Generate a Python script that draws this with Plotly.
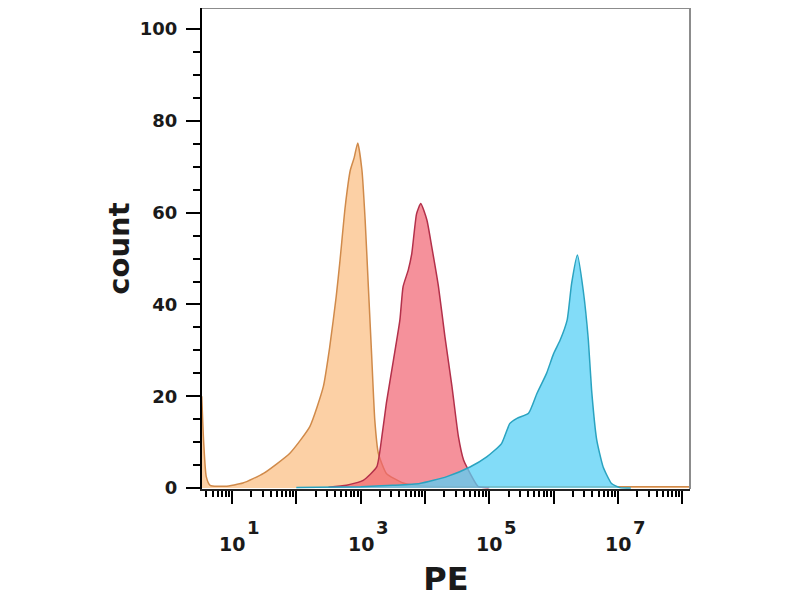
import numpy as np
import plotly.graph_objects as go

# -------------------------
# Data (x given as log10 of PE, y as count)
# -------------------------
orange_exp = [0.53, 0.56, 0.60, 0.66, 0.90, 1.17, 1.49, 1.90, 2.21, 2.42, 2.52, 2.62, 2.68, 2.76,
              2.84, 2.90, 2.955, 3.02, 3.07, 3.12, 3.17, 3.22, 3.275, 3.40, 3.66, 4.0, 5.0, 6.0, 7.0, 8.12]
orange_cnt = [20, 10, 2.5, 0.6, 0.4, 1.1, 3.2, 7.6, 13.4, 22.1, 30.8, 41.7, 49.7, 61.3,
              69.3, 72.0, 75.2, 69.3, 58.4, 43.9, 29.3, 14.8, 7.6, 3.2, 1.1, 0.4, 0.3, 0.3, 0.3, 0.3]

red_exp = [2.5, 2.78, 3.04, 3.25, 3.33, 3.40, 3.51, 3.61, 3.66, 3.74, 3.795, 3.87, 3.935, 4.03,
           4.105, 4.21, 4.31, 4.42, 4.52, 4.60, 4.65, 4.83, 5.0]
red_cnt = [0.2, 0.6, 1.7, 4.6, 11.2, 18.5, 27.9, 36.6, 43.9, 47.5, 51.1, 59.8, 62.0, 58.4,
           52.6, 43.9, 33.0, 22.1, 11.2, 6.1, 4.6, 0.3, 0.1]

blue_exp = [2.0, 3.0, 3.5, 3.92, 4.34, 4.70, 4.96, 5.19, 5.32, 5.43, 5.61, 5.74, 5.89, 6.0,
            6.10, 6.21, 6.28, 6.37, 6.46, 6.54, 6.59, 6.67, 6.77, 6.90, 7.03, 7.2]
blue_cnt = [0.1, 0.3, 0.6, 1.0, 2.5, 4.6, 6.8, 9.7, 14.1, 15.2, 16.3, 20.6, 25.0, 29.3,
            32.2, 36.6, 44.6, 50.8, 43.1, 32.2, 21.4, 10.5, 4.6, 1.0, 0.1, 0.0]

y_ticks = [0, 20, 40, 60, 80, 100]
x_major_exp = [1, 2, 3, 4, 5, 6, 7, 8]
x_label_exp = [1, 3, 5, 7]   # decades that carry a "10^n" label

FONT = "DejaVu Sans"

series = [
	(orange_exp, orange_cnt, "rgba(251,192,135,0.75)", "#d08a4a"),
	(red_exp, red_cnt, "rgba(241,98,112,0.7)", "#b3304a"),
	(blue_exp, blue_cnt, "rgba(88,208,245,0.75)", "#2aa3c0"),
]

fig = go.Figure()
for xe, yc, fillc, linec in series:
	fig.add_trace(go.Scatter(
		x=10 ** np.array(xe), y=yc,
		mode="lines", fill="tozeroy", fillcolor=fillc,
		line=dict(color=linec, width=1.5, shape="spline", smoothing=0.5),
		showlegend=False, hoverinfo="skip"
	))

minor_x = [m * 10 ** k for k in range(0, 9) for m in range(2, 10)]

# tick labels "10" with a full-size raised exponent, as in the original
annotations = []
for e in x_label_exp:
	annotations.append(dict(
		x=e, xref="x", y=0, yref="paper", text="10", showarrow=False,
		xanchor="center", yanchor="middle", yshift=-55,
		font=dict(family=FONT, size=19, weight="bold", color="#1a1a1a")))
	annotations.append(dict(
		x=e, xref="x", y=0, yref="paper", text=str(e), showarrow=False,
		xanchor="left", yanchor="middle", xshift=13, yshift=-38,
		font=dict(family=FONT, size=18, weight="bold", color="#1a1a1a")))

fig.update_layout(
	width=800, height=600,
	margin=dict(l=194, r=118, t=0, b=119),
	paper_bgcolor="white", plot_bgcolor="white",
	font=dict(family=FONT, color="#1a1a1a"),
	xaxis=dict(
		type="log", range=[0.534, 8.12],
		tickmode="array", tickvals=[10 ** e for e in x_major_exp],
		showticklabels=False,
		ticks="outside", ticklen=13, tickwidth=2, tickcolor="black",
		showline=True, linecolor="#222", linewidth=2,
		showgrid=False, zeroline=False, layer="below traces",
		minor=dict(tickmode="array", tickvals=minor_x, ticks="outside",
		           ticklen=6, tickwidth=1.5, tickcolor="black", showgrid=False),
		title=dict(text="PE", font=dict(family=FONT, size=32, weight="bold"), standoff=65),
	),
	yaxis=dict(
		range=[-0.2, 104.6],
		tickmode="array", tickvals=y_ticks,
		ticks="outside", ticklen=14, tickwidth=2, tickcolor="black",
		ticklabelstandoff=5,
		tickfont=dict(family=FONT, size=18, weight="bold"),
		showline=True, linecolor="black", linewidth=2,
		showgrid=False, zeroline=False,
		minor=dict(dtick=5, ticks="outside", ticklen=7, tickwidth=1.5,
		           tickcolor="black", showgrid=False),
		title=dict(text="count", font=dict(family=FONT, size=29, weight="bold"), standoff=2),
	),
	annotations=annotations,
	shapes=[
		dict(type="line", xref="paper", yref="paper", x0=0, x1=1, y0=1, y1=1,
		     line=dict(color="#8c8c8c", width=2)),
		dict(type="line", xref="paper", yref="paper", x0=1, x1=1, y0=0, y1=1,
		     line=dict(color="#8c8c8c", width=2)),
	],
)

fig.write_html("out.html")
